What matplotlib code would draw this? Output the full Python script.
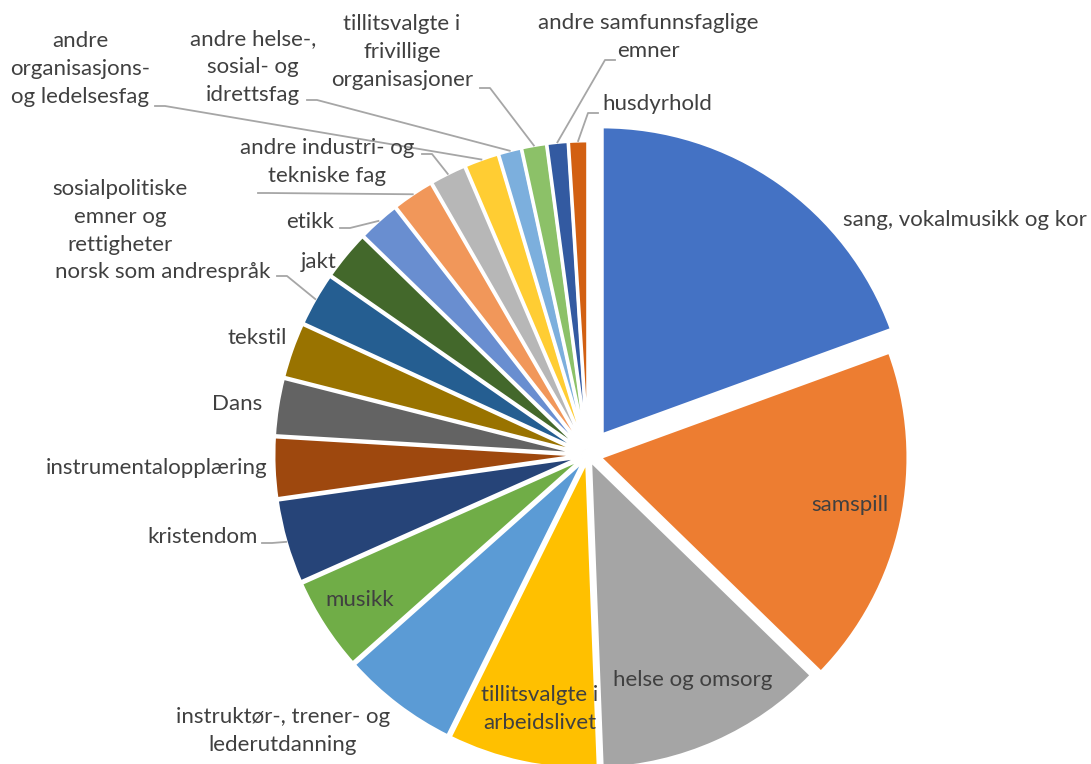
import numpy as np
import matplotlib
matplotlib.use('Agg')
import matplotlib.pyplot as plt

W, H = 1091, 764

labels = [
    'sang, vokalmusikk og kor', 'samspill', 'helse og omsorg',
    'tillitsvalgte i\narbeidslivet', 'instruktør-, trener- og\nlederutdanning',
    'musikk', 'kristendom', 'instrumentalopplæring', 'Dans', 'tekstil',
    'norsk som andrespråk', 'jakt', 'etikk',
    'sosialpolitiske\nemner og\nrettigheter', 'andre industri- og\ntekniske fag',
    'andre\norganisasjons-\nog ledelsesfag', 'andre helse-,\nsosial- og\nidrettsfag',
    'tillitsvalgte i\nfrivillige\norganisasjoner', 'andre samfunnsfaglige\nemner',
    'husdyrhold',
]
values = [19.4, 17.8, 12.1, 7.9, 6.1, 4.9, 4.4, 3.2, 3.0, 2.9,
          2.8, 2.6, 2.2, 2.2, 1.9, 1.8, 1.2, 1.3, 1.1, 1.0]
colors = ['#4472C4', '#ED7D31', '#A5A5A5', '#FFC000', '#5B9BD5', '#70AD47',
          '#264478', '#9E480E', '#636363', '#997300', '#255E91', '#43682B',
          '#698ED0', '#F1975A', '#B7B7B7', '#FFCD33', '#7CAFDD', '#8CC168',
          '#335AA1', '#D26012']

# label layout in pixel coords (x, y from top), ha
label_pos = [
    (965, 220, 'center'), (850, 505, 'center'), (693, 680, 'center'),
    (540, 709, 'center'), (283, 731, 'center'), (360, 600, 'center'),
    (258, 537, 'right'), (267, 468, 'right'), (262, 404, 'right'),
    (287, 338, 'right'), (270, 272, 'right'), (337, 262, 'right'),
    (334, 222, 'right'), (120, 217, 'center'), (327, 162, 'center'),
    (80, 69, 'center'), (253, 67, 'center'), (402, 52, 'center'),
    (648, 37, 'center'), (657, 104, 'center'),
]
# leader line start (pixel coords), None = no line
leader_start = [
    None, None, None, None, None, None,
    (262, 543), None, None, None, (277, 276), None,
    (340, 228), (258, 193), (422, 154),
    (155, 106), (307, 100), (480, 88),
    (615, 60), (598, 113),
]

R = 308
explode = [0.08 * R, 0.04 * R] + [0.02 * R] * 18

plt.rcParams['font.family'] = ['Lato', 'DejaVu Sans']
fig = plt.figure(figsize=(W / 100, H / 100), dpi=100)
ax = fig.add_axes([0, 0, 1, 1])

cx, cy = 588, H - 455
wedges, _ = ax.pie(values, colors=colors, startangle=90, counterclock=False,
                   explode=explode, center=(cx, cy), radius=R,
                   wedgeprops=dict(edgecolor='white', linewidth=2.3))

ax.set_xlim(0, W)
ax.set_ylim(0, H)
ax.set_aspect('equal')
ax.axis('off')

text_color = '#404040'
line_color = '#A6A6A6'
for i, w in enumerate(wedges):
    x, y, ha = label_pos[i]
    ax.text(x, H - y, labels[i], ha=ha, va='center', fontsize=16,
            color=text_color, linespacing=1.5)
    if leader_start[i] is not None:
        sx, sy = leader_start[i]
        mid = np.deg2rad((w.theta1 + w.theta2) / 2)
        wx = w.center[0] + w.r * np.cos(mid)
        wy = w.center[1] + w.r * np.sin(mid)
        ex = sx + 10 if wx > sx else sx - 10
        ax.plot([sx, ex, wx], [H - sy, H - sy, wy], color=line_color, lw=1.3)

fig.savefig('out.png', dpi=100)
